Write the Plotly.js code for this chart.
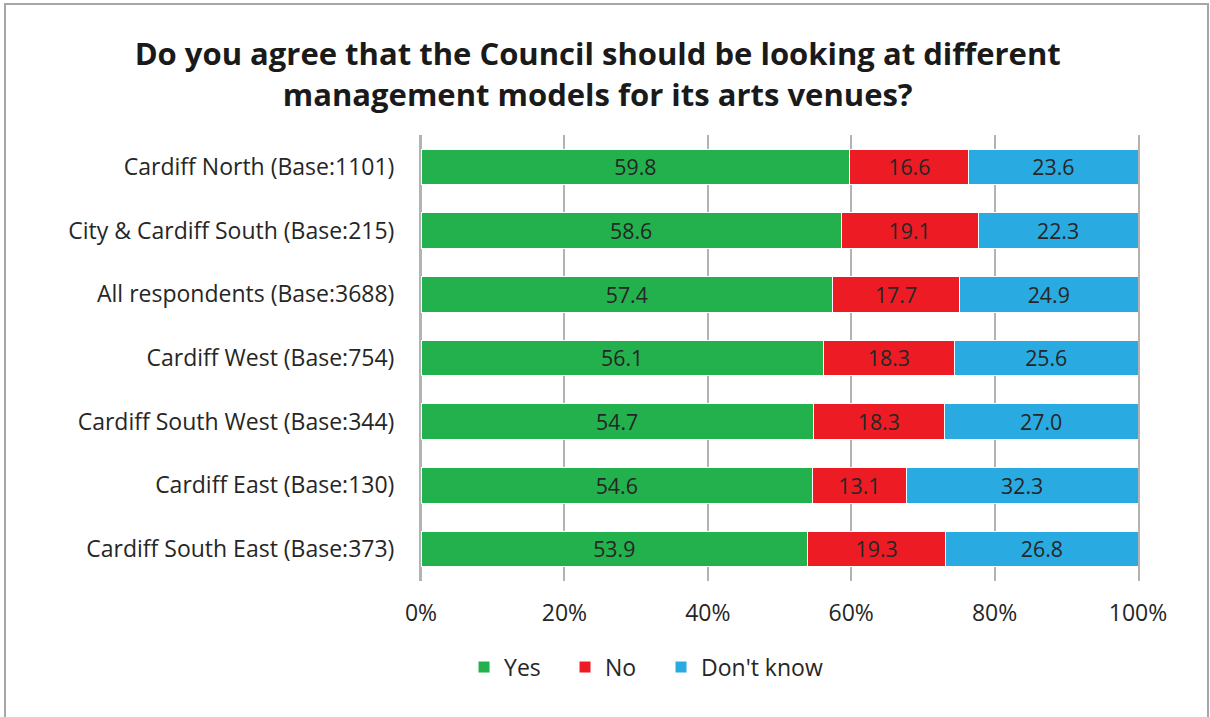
<!DOCTYPE html>
<html><head><meta charset="utf-8">
<script src="https://cdn.plot.ly/plotly-3.0.1.min.js"></script>
<style>
html,body{margin:0;padding:0;background:#fff;}
#wrap{position:relative;width:1210px;height:717px;overflow:hidden;}
#chart{position:absolute;left:0;top:0;width:1210px;height:717px;}
#border{position:absolute;left:4px;top:3px;width:1201px;height:730px;border:2px solid #a6a6a6;pointer-events:none;}
</style></head>
<body><div id="wrap"><div id="chart"></div><div id="border"></div></div>
<script>
const categories = ["Cardiff North (Base:1101)","City & Cardiff South (Base:215)","All respondents (Base:3688)","Cardiff West (Base:754)","Cardiff South West (Base:344)","Cardiff East (Base:130)","Cardiff South East (Base:373)"];
const yes = [59.8,58.6,57.4,56.1,54.7,54.6,53.9];
const no = [16.6,19.1,17.7,18.3,18.3,13.1,19.3];
const dontKnow = [23.6,22.3,24.9,25.6,27.0,32.3,26.8];
const seriesNames = ["Yes","No","Don't know"];
const colors = ["#22b14c","#ed1c24","#29abe2"];
const tickVals = [0,20,40,60,80,100];
const tickText = ["0%","20%","40%","60%","80%","100%"];
const FONT = "'Open Sans', Lato, sans-serif";
const FS = 23;
const vals = [yes,no,dontKnow];
const legendWidths = [56,51,null];
const traces = vals.map((v,i)=>{
  const t = {
    type:'bar', orientation:'h', name:seriesNames[i], y:categories, x:v,
    marker:{color:colors[i], line:{color:'#ffffff', width:1}},
    texttemplate:'%{x:.1f}', textposition:'inside', insidetextanchor:'middle',
    textfont:{family:FONT, size:FS, color:'#262626'}, hoverinfo:'none'
  };
  if (legendWidths[i]) t.legendwidth = legendWidths[i];
  return t;
});
const layout = {
  width:1210, height:717, barmode:'stack', bargap:0.44,
  paper_bgcolor:'rgba(0,0,0,0)', plot_bgcolor:'#fff',
  margin:{l:421, r:72, t:135, b:136},
  font:{family:FONT, size:FS, color:'#262626'},
  title:{text:'<b>Do you agree that the Council should be looking at different<br>management models for its arts venues?</b>',
    font:{family:FONT, size:31, color:'#1a1a1a'}, x:0.494, xanchor:'center', y:0.909, yanchor:'middle'},
  xaxis:{range:[0,100], tickvals:tickVals, ticktext:tickText, showgrid:true, gridcolor:'#b3b3b3', gridwidth:2,
    zeroline:true, zerolinecolor:'#b3b3b3', zerolinewidth:2, showline:false, ticks:'', ticklabelstandoff:16, tickfont:{family:FONT,size:FS,color:'#262626'}},
  yaxis:{autorange:'reversed', ticks:'', showline:true, mirror:true, linecolor:'#b3b3b3', linewidth:2, layer:'below traces',
    ticklabelstandoff:20, tickfont:{family:FONT,size:FS,color:'#262626'}},
  showlegend:true,
  legend:{orientation:'h', x:0.06, xanchor:'left', y:-0.193, yanchor:'middle', font:{family:FONT,size:FS,color:'#262626'},
    traceorder:'normal', itemwidth:30},
};
Plotly.newPlot('chart', traces, layout, {staticPlot:true, displayModeBar:false});
</script></body></html>
